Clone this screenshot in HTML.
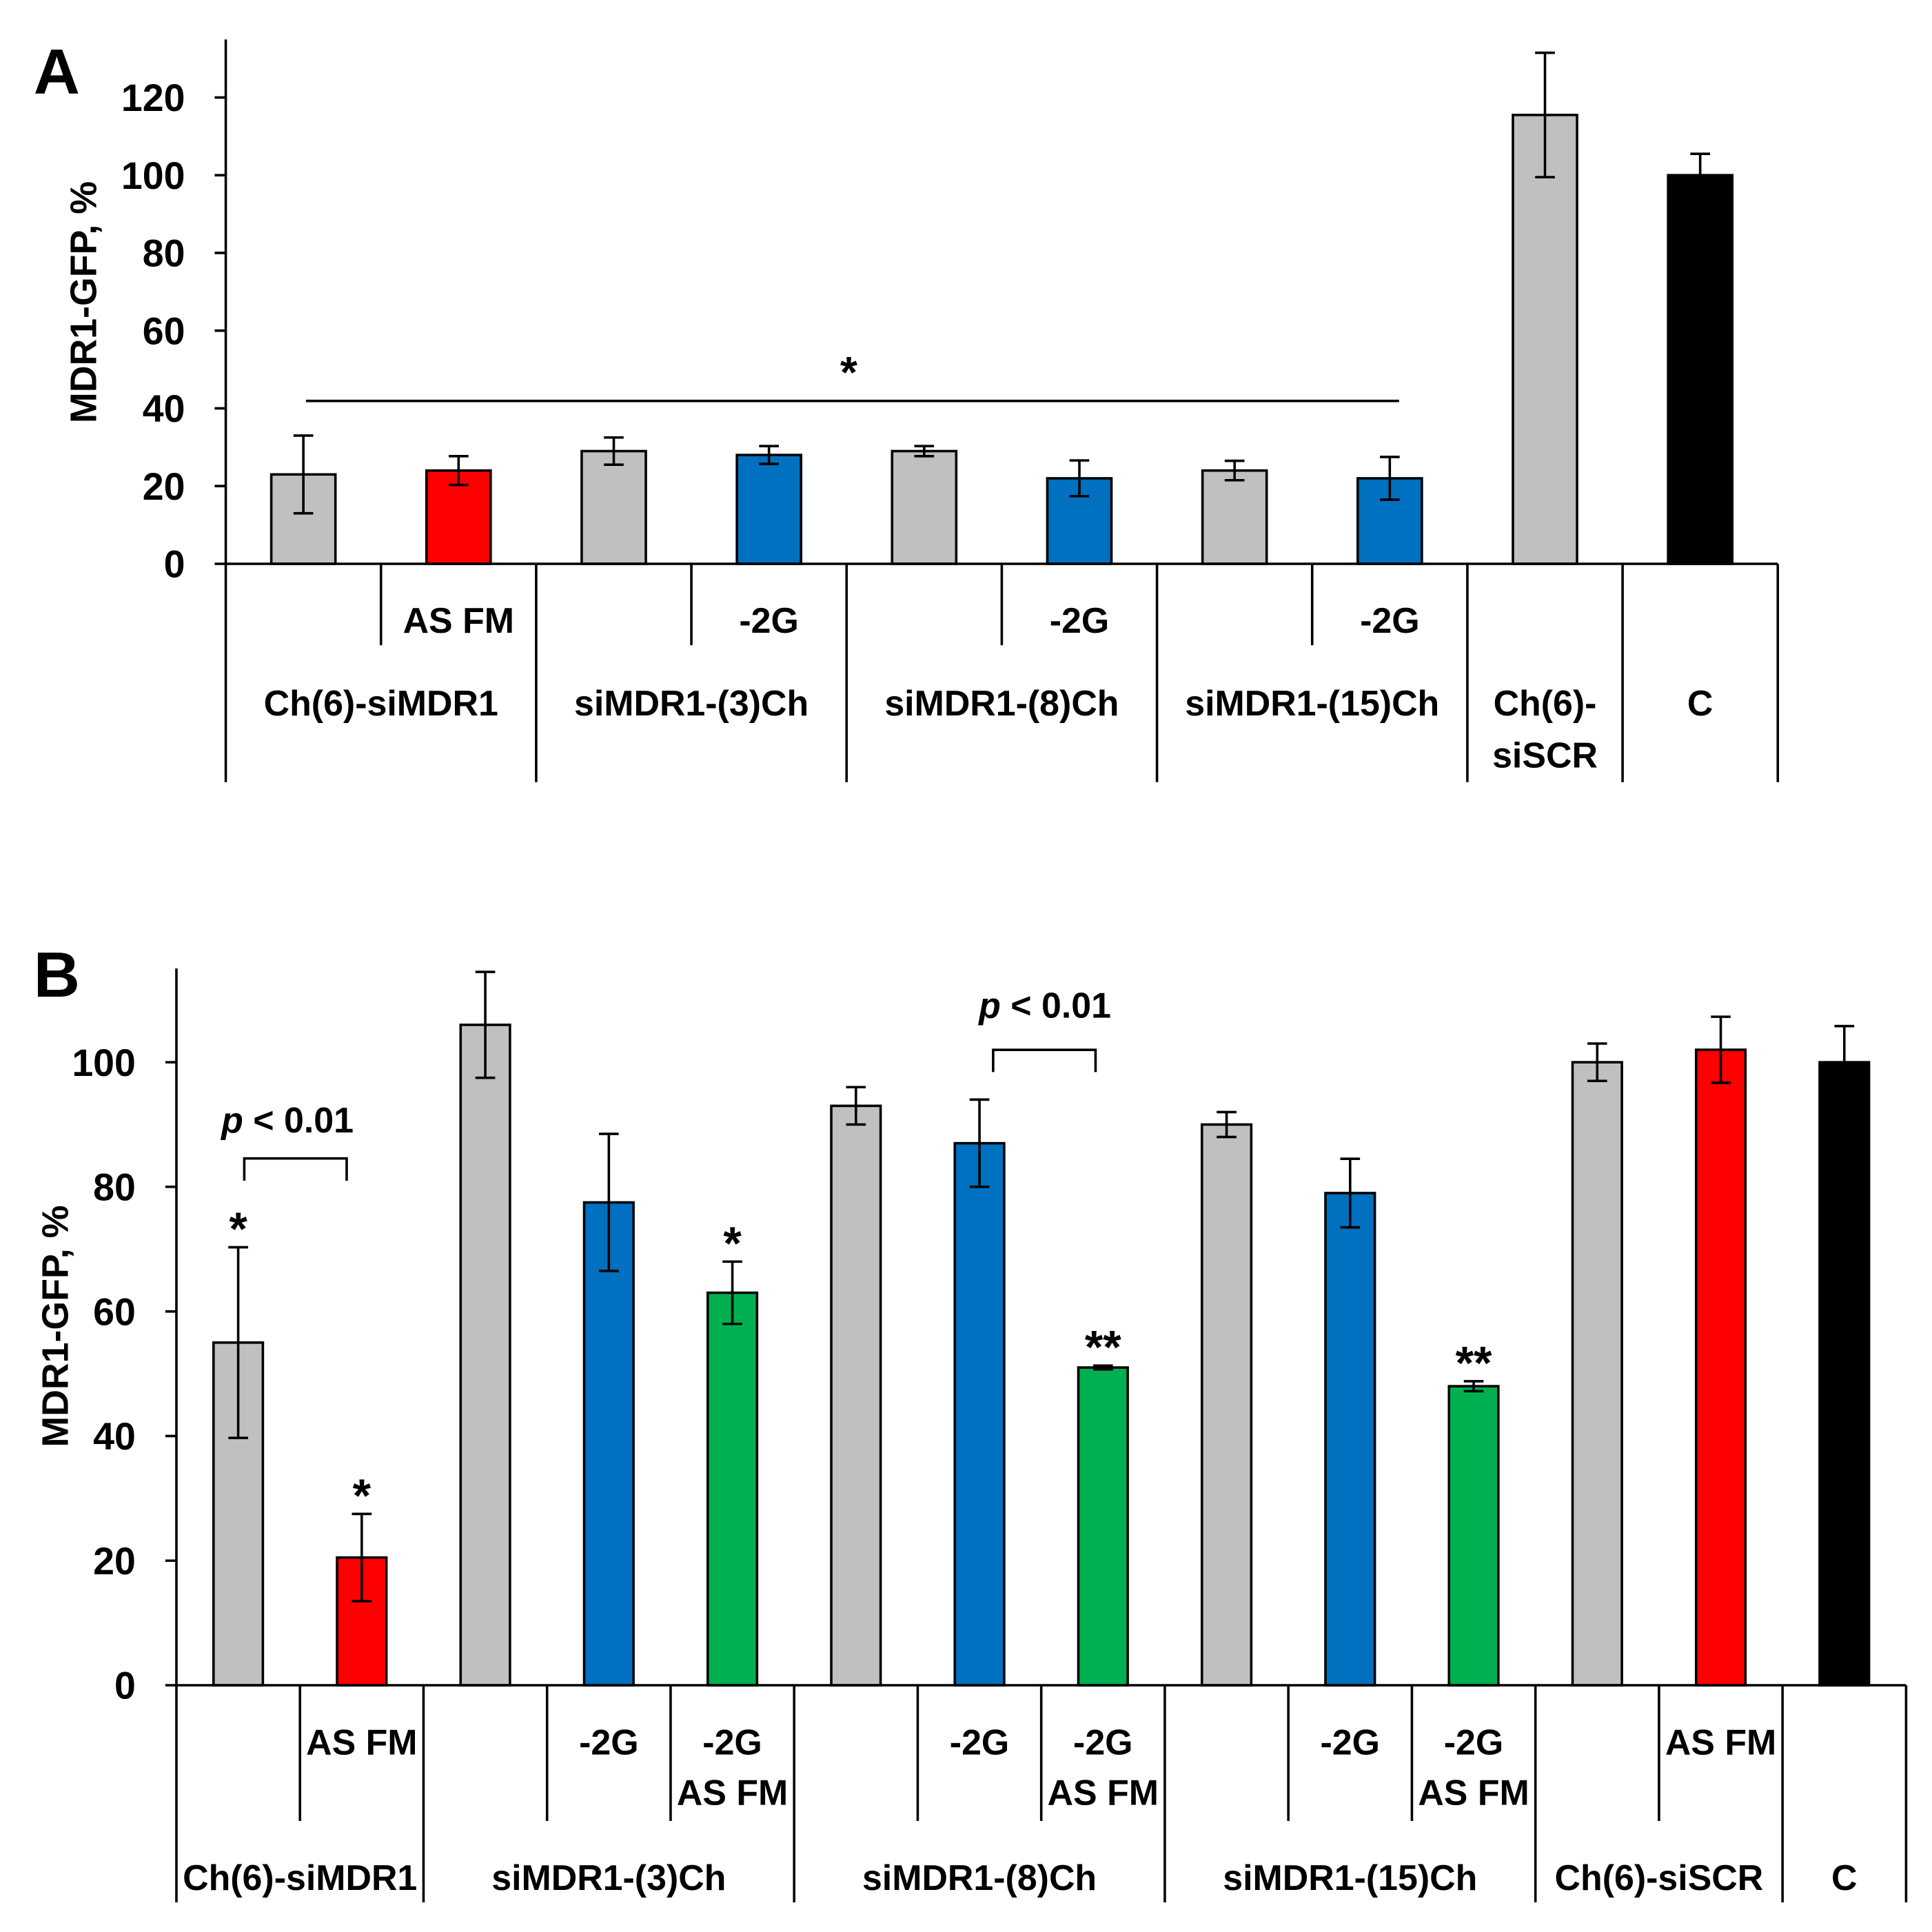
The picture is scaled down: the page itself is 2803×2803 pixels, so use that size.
<!DOCTYPE html>
<html><head><meta charset="utf-8"><style>
html,body{margin:0;padding:0;background:#fff}
svg{display:block}
text{font-family:"Liberation Sans",sans-serif;font-weight:bold;fill:#000}
</style></head><body>
<svg id="fig" width="2803" height="2803" viewBox="0 0 1566 1566" xmlns="http://www.w3.org/2000/svg"></svg>
<script>
// Panel A data
const catsA = ["Ch(6)-siMDR1","AS FM","siMDR1-(3)Ch","-2G","siMDR1-(8)Ch","-2G","siMDR1-(15)Ch","-2G","Ch(6)-siSCR","C"];
const valsA = [23, 24, 29, 28, 29, 22, 24, 22, 115.5, 100];
const errA  = [10, 3.7, 3.5, 2.3, 1.3, 4.6, 2.5, 5.5, 16, 5.5];
const colA  = ["#c0c0c0","#ff0000","#c0c0c0","#0070c0","#c0c0c0","#0070c0","#c0c0c0","#0070c0","#c0c0c0","#000000"];
const ticksA = [0,20,40,60,80,100,120];
// Panel B data
const valsB = [55, 20.5, 106, 77.5, 63, 93, 87, 51, 90, 79, 48, 100, 102, 100];
const errB  = [15.3, 7, 8.5, 11, 5, 3, 7, 0.3, 2, 5.5, 0.8, 3, 5.3, 5.8];
const colB  = ["#c0c0c0","#ff0000","#c0c0c0","#0070c0","#00b050","#c0c0c0","#0070c0","#00b050","#c0c0c0","#0070c0","#00b050","#c0c0c0","#ff0000","#000000"];
const starsB = ["*","*","","","*","","","**","","","**","","",""];
const ticksB = [0,20,40,60,80,100];

const NS="http://www.w3.org/2000/svg";
const svg=document.getElementById('fig');
function mk(tag,attrs,parent){const e=document.createElementNS(NS,tag);for(const k in attrs)e.setAttribute(k,attrs[k]);(parent||svg).appendChild(e);return e;}
function line(x1,y1,x2,y2,w,name){const l=mk('line',{x1,y1,x2,y2,stroke:'#000','stroke-width':w||1.8});

return l;}
function txt(x,y,s,size,name,anchor,extra){const t=mk('text',Object.assign({x,y,'font-size':size,'text-anchor':anchor||'middle'},extra||{}));t.textContent=s;

return t;}

// ---------- Panel A ----------
const A={x0:183,x1:1441,y0:457,yTop:32,scale:(457-79)/120};
const yA=v=>A.y0-v*A.scale;
const slotA=(A.x1-A.x0)/catsA.length;
const xA=i=>A.x0+slotA*(i+0.5);
txt(46,76,"A",52,"panel-a-label");
txt(0,0,"MDR1-GFP, %",30,"y-axis-title-a","middle",{transform:"translate(78,245) rotate(-90)"});
line(A.x0,A.yTop,A.x0,634,2,"y-axis-a");
ticksA.forEach(t=>{line(A.x0-9,yA(t),A.x0,yA(t),2,"y-tick-a");txt(150,yA(t)+11,String(t),31,"y-tick-label-a","end");});
valsA.forEach((v,i)=>{
  const r=mk('rect',{x:xA(i)-26,y:yA(v),width:52,height:A.y0-yA(v),fill:colA[i],stroke:'#000','stroke-width':2});
  
  
  const hi=yA(v+errA[i]),lo=yA(v-errA[i]);
  if(i===9){line(xA(i),hi,xA(i),yA(v),2,"error-bar-a");line(xA(i)-8,hi,xA(i)+8,hi,2,"error-cap-a");}
  else{line(xA(i),hi,xA(i),lo,2,"error-bar-a");line(xA(i)-8,hi,xA(i)+8,hi,2,"error-cap-a");line(xA(i)-8,lo,xA(i)+8,lo,2,"error-cap-a");}
});
line(A.x0,A.y0,A.x1,A.y0,2,"x-axis-a");
for(let k=1;k<=10;k++){const x=A.x0+slotA*k;const big=(k%2===0)||k>=8;line(x,A.y0,x,big?634:523,2,"x-divider-a");}
[[1,"AS FM"],[3,"-2G"],[5,"-2G"],[7,"-2G"]].forEach(([i,s])=>txt(xA(i),513,s,29,"x-sublabel-a"));
[[0,"Ch(6)-siMDR1"],[2,"siMDR1-(3)Ch"],[4,"siMDR1-(8)Ch"],[6,"siMDR1-(15)Ch"]].forEach(([i,s])=>txt(A.x0+slotA*(i+1),580,s,29,"x-group-label-a"));
txt(xA(8),580,"Ch(6)-",29,"x-group-label-a");txt(xA(8),622,"siSCR",29,"x-group-label-a");
txt(xA(9),580,"C",29,"x-group-label-a");
line(248,325,1134,325,2,"significance-line-a");
txt(688,314,"*",36,"significance-star-a","middle",{'font-weight':'normal'});

// ---------- Panel B ----------
const B={x0:143,x1:1545,y0:1366,yTop:785,scale:(1366-861)/100};
const yB=v=>B.y0-v*B.scale;
const slotB=(B.x1-B.x0)/valsB.length;
const xB=i=>B.x0+slotB*(i+0.5);
txt(46,808,"B",52,"panel-b-label");
txt(0,0,"MDR1-GFP, %",30,"y-axis-title-b","middle",{transform:"translate(55,1075) rotate(-90)"});
line(B.x0,B.yTop,B.x0,1542,2,"y-axis-b");
ticksB.forEach(t=>{line(B.x0-9,yB(t),B.x0,yB(t),2,"y-tick-b");txt(110,yB(t)+11,String(t),31,"y-tick-label-b","end");});
valsB.forEach((v,i)=>{
  const r=mk('rect',{x:xB(i)-20,y:yB(v),width:40,height:B.y0-yB(v),fill:colB[i],stroke:'#000','stroke-width':2});
  
  
  const hi=yB(v+errB[i]),lo=yB(v-errB[i]);
  if(i===13){line(xB(i),hi,xB(i),yB(v),2,"error-bar-b");line(xB(i)-8,hi,xB(i)+8,hi,2,"error-cap-b");}
  else{line(xB(i),hi,xB(i),lo,2,"error-bar-b");line(xB(i)-8,hi,xB(i)+8,hi,2,"error-cap-b");line(xB(i)-8,lo,xB(i)+8,lo,2,"error-cap-b");}
  if(starsB[i])txt(xB(i),hi-2,starsB[i],38,"significance-star-b","middle",{'font-weight':'normal'});
});
line(B.x0,B.y0,B.x1,B.y0,2,"x-axis-b");
const bigB=[2,5,8,11,13,14];
for(let k=1;k<=14;k++){const x=B.x0+slotB*k;line(x,B.y0,x,bigB.includes(k)?1542:1476,2,"x-divider-b");}
[[1,"AS FM"],[3,"-2G"],[4,"-2G"],[6,"-2G"],[7,"-2G"],[9,"-2G"],[10,"-2G"],[12,"AS FM"]].forEach(([i,s])=>txt(xB(i),1422,s,29,"x-sublabel-b"));
[4,7,10].forEach(i=>txt(xB(i),1463,"AS FM",29,"x-sublabel-b"));
[[B.x0+slotB,"Ch(6)-siMDR1"],[xB(3),"siMDR1-(3)Ch"],[xB(6),"siMDR1-(8)Ch"],[xB(9),"siMDR1-(15)Ch"],[B.x0+slotB*12,"Ch(6)-siSCR"],[xB(13),"C"]].forEach(([x,s])=>txt(x,1532,s,29,"x-group-label-b"));
function bracket(xa,xb,yt,yl,tx,ty){
  const p=mk('path',{d:`M${xa},${yl} L${xa},${yt} L${xb},${yt} L${xb},${yl}`,fill:'none',stroke:'#000','stroke-width':2});
  
  
  const t=txt(tx,ty,"",29,"p-value-label");
  const ts=mk('tspan',{'font-style':'italic'},t);ts.textContent="p";
  const ts2=mk('tspan',{},t);ts2.textContent=" < 0.01";
}
bracket(198,281,939,957,233,918);
bracket(805,888,851,869,847,825);
</script>
</body></html>
